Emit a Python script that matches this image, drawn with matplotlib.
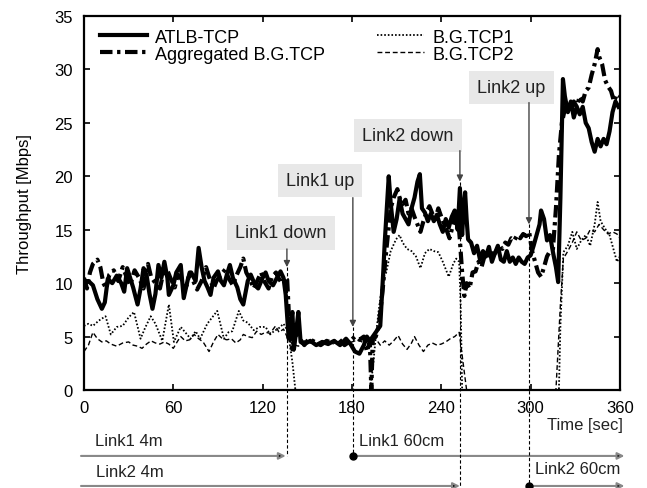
import matplotlib
matplotlib.use("Agg")
import matplotlib.pyplot as plt

plt.rcParams['font.family'] = ['Liberation Sans', 'DejaVu Sans']

# ATLB-TCP (thick solid)
atlb_t = [0, 3, 6, 9, 12, 14, 16, 19, 22, 25, 27, 29, 31, 33, 36, 38, 40, 42, 44, 46,
          48, 50, 52, 54, 56, 57, 60, 62, 65, 67, 70, 72, 75, 77, 79, 81, 83, 85, 87, 90,
          92, 94, 96, 98, 100, 103, 105, 107, 110, 112, 115, 117, 120, 122, 124, 127, 130, 132, 134, 135.5,
          137.5, 139, 140, 141, 142.5, 144, 145.5, 148, 152, 156, 160, 164, 168, 172, 176, 179, 182, 185, 188, 190,
          192, 195, 197, 199, 201, 202, 204.7, 206, 208, 210, 212, 214, 216, 218, 220, 222, 224, 225.6, 227, 229,
          231, 233, 235, 237, 239, 241, 243, 245, 247, 249, 251, 252.5, 254, 255, 256, 257, 258, 260, 262, 264,
          266, 268, 270, 272, 274, 276, 278, 280, 282, 284, 286, 288, 290, 292, 294, 296, 298, 300, 302, 304,
          306, 307, 309, 311, 313, 315, 317, 318.5, 320, 321.7, 323, 325, 327, 329, 331, 333, 335, 337, 339, 341,
          343, 345, 347, 349, 351, 353, 355, 357, 359]
atlb_v = [10.0, 10.2, 9.8, 8.5, 7.6, 8.2, 10.4, 10.0, 10.7, 10.0, 9.2, 11.4, 10.5, 9.6, 8.0, 9.5, 11.4, 10.8, 9.0, 7.6,
          9.0, 11.7, 10.5, 12.0, 10.5, 8.9, 9.8, 11.0, 11.7, 8.6, 10.5, 11.0, 10.2, 13.3, 11.5, 10.2, 9.6, 8.9, 10.5, 11.1,
          10.2, 9.8, 10.8, 11.7, 10.5, 9.6, 8.5, 8.0, 10.2, 10.8, 9.8, 9.5, 10.5, 11.0, 10.2, 9.8, 10.6, 11.1, 10.5, 8.9,
          4.8, 6.5, 7.3, 3.8, 5.5, 7.3, 4.5, 4.3, 4.6, 4.2, 4.5, 4.3, 4.6, 4.2, 4.8, 4.3, 3.6, 3.4, 4.2, 5.0,
          4.6, 5.2, 5.6, 6.0, 11.0, 13.8, 20.0, 17.5, 14.8, 16.0, 17.9, 16.5, 16.0, 15.5, 17.0, 18.0, 19.5, 20.2, 17.0, 16.6,
          15.8, 16.5, 15.8, 16.4, 15.5, 14.8, 16.0, 15.2, 16.2, 16.8, 15.0, 18.9, 14.5, 17.0, 18.5, 16.0, 14.1, 13.8, 12.8, 13.5,
          12.2, 13.0, 12.5, 13.4, 12.0, 12.8, 13.5, 12.2, 12.0, 13.0, 12.0, 12.4, 11.8, 12.4, 12.0, 11.8, 12.4, 12.6, 13.5, 14.5,
          15.5, 16.8, 16.0, 14.0, 14.5, 12.9, 11.5, 10.1, 18.0, 29.1, 27.5, 26.0, 27.0, 25.5, 26.5, 25.8, 26.5, 25.0, 24.5, 23.2,
          22.3, 23.5, 22.8, 23.5, 23.0, 24.2, 26.0, 27.0, 26.5]

# Aggregated B.G.TCP (thick dash-dot)
agg_t = [0, 2, 4, 6, 9, 11, 13, 15, 17, 20, 23, 26, 28, 31, 34, 37, 40, 43, 45, 48,
         51, 53, 56, 58, 61, 63, 66, 69, 71, 74, 76, 79, 82, 84, 87, 89, 92, 95, 97, 100,
         102, 105, 107, 109, 112, 114, 117, 119, 121, 124, 126, 129, 131, 133, 135, 136.5, 138, 140, 142, 145,
         148, 151, 155, 159, 163, 167, 171, 175, 179, 182, 185, 188, 190, 192, 193, 194, 196, 198, 200.5, 203,
         206, 208, 210.5, 212, 214, 216, 218, 220, 222, 224, 226, 228, 230, 232, 234, 236, 238, 240, 242, 244,
         245.5, 247, 249, 251, 252.5, 254, 255.5, 257, 259, 261, 263, 265, 267, 269, 271, 273, 275, 277, 279, 281,
         283, 285, 287, 289, 291, 293, 295, 297, 299, 301, 303, 305, 307, 309, 311, 313, 315, 317, 319, 321,
         323, 325, 327, 329, 331, 333, 335, 337, 339, 341, 343, 345, 346, 348, 350, 352, 354, 356, 358, 360]
agg_v = [10.5, 9.5, 11.0, 11.8, 12.2, 11.5, 10.0, 9.5, 10.8, 11.2, 10.2, 11.5, 10.8, 9.8, 11.2, 10.5, 9.5, 11.8, 10.6, 10.0,
         9.5, 10.8, 11.2, 10.5, 9.6, 10.8, 10.3, 9.8, 11.0, 10.0, 9.4, 10.2, 11.5, 10.6, 9.5, 10.2, 10.8, 11.3, 10.5, 9.8,
         10.6, 11.5, 12.3, 11.0, 10.2, 9.5, 10.4, 11.0, 10.2, 9.5, 10.5, 11.0, 10.4, 10.0, 10.6, 10.3, 6.0, 3.5, 5.2, 4.8,
         4.2, 4.8, 4.5, 4.2, 4.6, 4.4, 4.8, 4.2, 4.6, 5.0, 4.7, 5.0, 3.6, 4.5, 0.0, 4.8, 5.0, 6.0, 9.2, 13.0,
         17.0, 18.0, 18.8, 18.0, 17.4, 17.8, 16.5, 17.0, 16.2, 15.5, 14.8, 15.8, 16.6, 17.2, 16.5, 16.0, 17.0, 16.2, 15.5, 14.8,
         14.2, 15.0, 16.0, 16.5, 14.0, 11.0, 8.8, 10.0, 9.5, 11.0, 11.1, 12.0, 11.5, 12.5, 12.2, 13.0, 12.6, 13.0, 13.5, 13.2,
         13.8, 13.6, 14.2, 14.0, 14.5, 14.2, 14.6, 14.4, 14.8, 13.0, 12.0, 11.0, 10.6, 11.5, 12.5, 13.0, 13.2, 17.0, 22.0, 25.0,
         26.3, 26.8, 26.2, 27.0, 26.5, 27.5, 27.0, 28.0, 28.3, 29.5, 30.5, 31.9, 31.2, 30.5, 29.0, 28.4, 28.0, 27.0, 27.7, 27.5]

# B.G.TCP1 (thin dotted)
bg1_t = [0, 3, 6, 10, 14.5, 18, 22, 26, 30, 33.6, 38, 41, 44.8, 48, 52.6, 57, 60.4, 65, 68, 71.6,
         75, 78, 82.8, 89.5, 94, 97, 99.6, 104, 107, 110, 114, 118, 122, 125, 127.6, 131, 134, 137, 140, 142,
         192, 194, 196, 198, 200.8, 203, 206, 209.6, 212, 214, 217, 220, 223, 226, 229, 232, 235, 238, 241, 245,
         248, 250, 252, 253, 254, 319, 320, 322, 325, 328, 331, 334, 337, 340, 343, 345, 347, 350, 353, 356,
         358, 360]
bg1_v = [6.0, 6.2, 6.0, 6.5, 6.9, 5.2, 5.9, 6.0, 6.8, 7.3, 4.8, 5.8, 6.9, 6.2, 4.6, 8.0, 4.5, 5.9, 5.4, 4.8,
         5.5, 4.8, 6.2, 7.4, 4.8, 5.4, 5.5, 7.4, 6.5, 6.3, 5.6, 5.9, 5.9, 5.2, 5.5, 5.8, 6.2, 5.5, 2.6, 0.0,
         0.0, 2.0, 5.0, 7.5, 10.4, 11.0, 13.0, 14.1, 14.5, 13.8, 13.2, 13.0, 12.5, 11.4, 12.8, 13.2, 13.0, 12.9, 12.0, 10.6,
         11.8, 12.3, 12.0, 8.0, 0.0, 0.0, 6.0, 12.9, 13.5, 14.8, 13.2, 14.0, 14.5, 13.5, 15.5, 17.6, 15.8, 15.1, 14.5, 13.0,
         12.0, 12.5]

# B.G.TCP2 (thin dashed)
bg2_t = [0, 3, 6, 9, 12, 15, 18, 22, 26, 30, 33, 36, 39, 42, 45, 48, 51, 54, 57, 60,
         63, 65, 68, 71, 74, 77, 80, 84, 87, 90, 93, 96, 99, 102, 105, 107, 110, 113, 116, 119,
         122, 125, 128.7, 131, 134, 137, 140, 144, 148, 152, 156, 160, 164, 168, 172, 176, 180, 184, 188, 192,
         196, 199, 202, 205, 208, 211, 214, 217, 220, 222, 225, 228, 231, 234, 237, 240, 243, 246, 249, 252,
         257, 317, 320, 322, 325, 328, 331, 334, 337, 340, 343, 346, 349, 352, 355, 358, 360]
bg2_v = [3.6, 4.2, 5.4, 4.8, 4.5, 4.6, 4.3, 4.1, 4.4, 4.5, 4.2, 4.1, 3.9, 4.3, 4.6, 4.4, 4.3, 4.5, 4.3, 3.9,
         4.6, 5.0, 4.6, 4.7, 5.2, 4.8, 4.5, 3.6, 4.5, 5.2, 4.8, 4.7, 4.8, 4.4, 4.7, 5.2, 5.0, 4.9, 5.5, 5.2,
         5.4, 5.3, 6.0, 5.4, 5.7, 4.8, 4.3, 4.1, 4.6, 4.4, 4.3, 4.6, 4.5, 4.3, 4.6, 4.4, 4.5, 4.7, 4.4, 4.6,
         4.8, 4.2, 4.6, 4.2, 4.6, 5.1, 4.3, 3.8, 4.4, 5.0, 4.2, 3.6, 4.2, 4.4, 4.2, 4.3, 4.5, 4.8, 5.0, 5.4,
         0.0, 0.0, 8.0, 12.3, 13.0, 13.8, 14.8, 14.0, 14.2, 15.0, 14.8, 15.5, 15.0, 14.6, 14.8, 14.6, 14.2]

# events: label, time, box centre (t, v), box bottom, arrow tip, lower end of dashed guide
events = ["Link1 down", "Link1 up", "Link2 down", "Link2 up"]
ev_time = [136.3, 180.6, 252.5, 298.9]
box_t = [132.3, 158.5, 217.6, 287.0]
box_v = [14.7, 19.6, 23.8, 28.3]
box_bottom = [13.2, 18.0, 22.4, 26.9]
tip_v = [11.5, 5.9, 19.5, 15.5]
guide_end = [-6.17, -6.17, -8.98, -8.98]

# link distance periods below the axis
periods = ["Link1 4m", "Link1 60cm", "Link2 4m", "Link2 60cm"]
per_start = [-2, 180.6, -2, 298.9]
per_end = [135.5, 363, 252.5, 363]
per_y = [-6.17, -6.17, -8.98, -8.98]
per_label_t = [7.4, 184.5, 8.0, 303.0]
per_label_v = [-4.7, -4.7, -7.6, -7.3]
per_dot = [False, True, False, True]

fig = plt.figure(figsize=(6.47, 4.89), dpi=100)
ax = fig.add_axes([0.1298, 0.2004, 0.8284, 0.7648])

ax.plot(bg1_t, bg1_v, color='k', lw=1.3, ls=(0, (0.9, 1.1)), label='B.G.TCP1', zorder=2)
ax.plot(bg2_t, bg2_v, color='k', lw=1.0, ls=(0, (3.5, 2)), label='B.G.TCP2', zorder=2)
ax.plot(agg_t, agg_v, color='k', lw=3.0, ls=(0, (3, 1.1, 0.8, 1.1)), label='Aggregated B.G.TCP', zorder=3)
ax.plot(atlb_t, atlb_v, color='k', lw=3.0, label='ATLB-TCP', zorder=4)

ax.set_xlim(0, 360)
ax.set_ylim(0, 35)
ax.set_xticks(range(0, 361, 60))
ax.set_yticks(range(0, 36, 5))
ax.tick_params(direction='in', top=True, right=True, length=4, width=1.2, labelsize=12)
ax.tick_params(axis='y', pad=8)
ax.tick_params(axis='x', pad=7)
for s in ax.spines.values():
    s.set_linewidth(1.6)
ax.set_ylabel('Throughput [Mbps]', fontsize=12, labelpad=16)

h, l = ax.get_legend_handles_labels()
order = [3, 2, 0, 1]
ax.legend([h[i] for i in order], [l[i] for i in order], ncol=2, loc='upper left',
          bbox_to_anchor=(0.03, 0.966), frameon=False, fontsize=13, handlelength=2.6,
          handletextpad=0.45, columnspacing=2.9, labelspacing=0.0, borderpad=0, borderaxespad=0)

for i in range(len(events)):
    ax.text(box_t[i], box_v[i], events[i], ha='center', va='center', fontsize=13, color='#222',
            bbox=dict(boxstyle='square,pad=0.45', fc='#e8e8e8', ec='none'), zorder=5)
    ax.annotate('', xy=(ev_time[i], tip_v[i]), xytext=(ev_time[i], box_bottom[i]),
                arrowprops=dict(arrowstyle='-|>', color='#444', lw=1.0, shrinkA=0, shrinkB=0,
                                mutation_scale=9), zorder=5)
    ax.plot([ev_time[i], ev_time[i]], [tip_v[i], guide_end[i]], color='k', lw=0.8,
            ls=(0, (3, 2)), clip_on=False, zorder=5)

for i in range(len(periods)):
    ax.annotate('', xy=(per_end[i], per_y[i]), xytext=(per_start[i], per_y[i]),
                arrowprops=dict(arrowstyle='-|>', fc='k', ec='#888', lw=1.5, shrinkA=0, shrinkB=0,
                                mutation_scale=10), annotation_clip=False)
    if per_dot[i]:
        ax.plot([per_start[i]], [per_y[i]], 'o', color='k', ms=5, clip_on=False, zorder=6)
    ax.text(per_label_t[i], per_label_v[i], periods[i], ha='left', va='center', fontsize=12, color='#222',
            clip_on=False)

ax.text(362, -3.2, 'Time [sec]', ha='right', va='center', fontsize=12, color='#222', clip_on=False)

fig.savefig('out.png', dpi=100)
